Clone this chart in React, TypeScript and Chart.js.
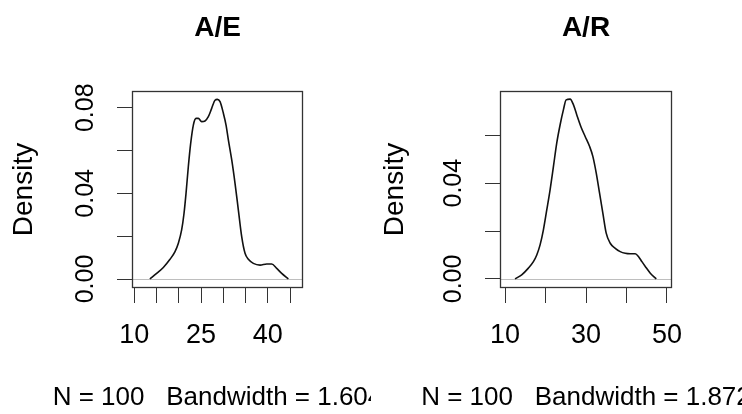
import React, { useEffect, useRef } from "react";
import { Chart, registerables } from "chart.js";

Chart.register(...registerables);

// ---------- data ----------
const AE_X = [13.5, 15.02, 16.52, 18.02, 19.15, 19.9, 20.64, 21.17, 21.62, 22.14, 22.67, 23.27, 23.87, 24.39, 25.14, 25.89, 26.64, 27.39, 28.14, 28.67, 29.27, 30.02, 30.62, 31.15, 31.9, 32.64, 33.39, 34.14, 34.89, 35.64, 36.76, 38.26, 39.76, 40.88, 42.01, 43.13, 44.63];
const AE_Y = [0.0, 0.0026, 0.0054, 0.0092, 0.0128, 0.0167, 0.0229, 0.0306, 0.0399, 0.0524, 0.0633, 0.0719, 0.075, 0.075, 0.0735, 0.0738, 0.0758, 0.0797, 0.0835, 0.0839, 0.0828, 0.0774, 0.0719, 0.0649, 0.0556, 0.0447, 0.0322, 0.0198, 0.012, 0.0092, 0.0073, 0.0065, 0.007, 0.007, 0.005, 0.0026, 0.0];

const AR_X = [12.47, 14.12, 15.77, 17.01, 17.84, 18.66, 19.48, 20.31, 21.13, 21.96, 22.78, 23.61, 24.43, 25.09, 26.08, 26.91, 27.73, 28.72, 29.79, 30.87, 31.69, 32.52, 33.34, 34.16, 34.99, 35.98, 37.22, 38.45, 39.69, 40.93, 42.16, 42.99, 43.81, 44.64, 45.88, 47.36];
const AR_Y = [0.0, 0.0017, 0.0045, 0.0072, 0.01, 0.0142, 0.0205, 0.0288, 0.0372, 0.047, 0.0568, 0.0644, 0.0707, 0.0748, 0.0751, 0.0727, 0.0685, 0.0637, 0.0595, 0.0554, 0.0512, 0.0443, 0.0359, 0.0275, 0.0191, 0.0149, 0.0128, 0.0114, 0.0107, 0.0105, 0.0105, 0.0093, 0.0072, 0.0052, 0.0024, 0.0];

const TITLES = ["A/E", "A/R"];
const X_LABELS = ["N = 100   Bandwidth = 1.604", "N = 100   Bandwidth = 1.872"];
const AE_X_TICK_LABELS = [10, 25, 40];
const AR_X_TICK_LABELS = [10, 30, 50];
const Y_TICK_LABELS = [0, 0.04, 0.08];
const Y_LABEL = "Density";

// ---------- layout ----------
const W = 371;
const H = 414;
const FONT = "'Liberation Sans', Arial, Helvetica, sans-serif";

type Panel = {
  xs: number[];
  ys: number[];
  title: string;
  xlab: string;
  xTickLabels: number[];
  xMin: number;
  xMax: number;
  xStep: number;
  yMin: number;
  yMax: number;
  area: { left: number; right: number; top: number; bottom: number };
};

const PANELS: Panel[] = [
  {
    xs: AE_X,
    ys: AE_Y,
    title: TITLES[0],
    xlab: X_LABELS[0],
    xTickLabels: AE_X_TICK_LABELS,
    xMin: 9.48,
    xMax: 47.92,
    xStep: 5,
    yMin: -0.0042,
    yMax: 0.0878,
    area: { left: 132, right: 303, top: 91, bottom: 288 },
  },
  {
    xs: AR_X,
    ys: AR_Y,
    title: TITLES[1],
    xlab: X_LABELS[1],
    xTickLabels: AR_X_TICK_LABELS,
    xMin: 8.76,
    xMax: 51.24,
    xStep: 10,
    yMin: -0.0038,
    yMax: 0.0785,
    area: { left: 129, right: 301, top: 91, bottom: 288 },
  },
];

function DensityPanel({ p }: { p: Panel }) {
  const ref = useRef<HTMLCanvasElement | null>(null);

  useEffect(() => {
    if (!ref.current) return;
    const decor = {
      id: "rdecor",
      beforeDatasetsDraw(chart: any) {
        const { ctx, chartArea } = chart;
        const y0 = Math.round(chart.scales.y.getPixelForValue(0)) + 0.5;
        ctx.save();
        ctx.strokeStyle = "#bebebe";
        ctx.lineWidth = 1;
        ctx.beginPath();
        ctx.moveTo(chartArea.left, y0);
        ctx.lineTo(chartArea.right, y0);
        ctx.stroke();
        ctx.restore();
      },
      afterDraw(chart: any) {
        const { ctx, chartArea } = chart;
        ctx.save();
        ctx.strokeStyle = "#333";
        ctx.lineWidth = 1.3;
        const l = Math.round(chartArea.left) + 0.5;
        const t = Math.round(chartArea.top) + 0.5;
        const r = Math.round(chartArea.right) - 0.5;
        const b = Math.round(chartArea.bottom) - 0.5;
        ctx.strokeRect(l, t, r - l, b - t);
        const cx = (chartArea.left + chartArea.right) / 2;
        ctx.fillStyle = "#000";
        ctx.textAlign = "center";
        ctx.textBaseline = "middle";
        ctx.font = `bold 28px ${FONT}`;
        ctx.fillText(p.title, cx, 28);
        ctx.font = `26px ${FONT}`;
        ctx.fillText(p.xlab, cx, 398);
        ctx.restore();
      },
    };

    const chart = new Chart(ref.current, {
      type: "line",
      data: {
        datasets: [
          {
            data: p.xs.map((x, i) => ({ x, y: p.ys[i] })),
            borderColor: "#111",
            borderWidth: 1.6,
            pointRadius: 0,
            fill: false,
            cubicInterpolationMode: "monotone",
          },
        ],
      },
      options: {
        responsive: false,
        animation: false,
        events: [],
        layout: {
          padding: { left: 0, top: p.area.top, right: W - p.area.right, bottom: 0 },
        },
        plugins: {
          legend: { display: false },
          tooltip: { enabled: false },
          title: { display: false },
        },
        scales: {
          x: {
            type: "linear",
            min: p.xMin,
            max: p.xMax,
            border: { display: false },
            grid: {
              drawOnChartArea: false,
              drawTicks: true,
              tickLength: 15,
              color: "#333",
              lineWidth: 1,
            },
            ticks: {
              stepSize: p.xStep,
              includeBounds: false,
              autoSkip: false,
              maxRotation: 0,
              minRotation: 0,
              padding: 16,
              color: "#000",
              font: { family: FONT, size: 27 },
              callback: (v: any) =>
                p.xTickLabels.some((t) => Math.abs(t - Number(v)) < 1e-6) ? String(Math.round(Number(v))) : "",
            },
            afterFit: (scale: any) => {
              scale.height = H - p.area.bottom;
            },
          },
          y: {
            type: "linear",
            min: p.yMin,
            max: p.yMax,
            border: { display: false },
            grid: {
              drawOnChartArea: false,
              drawTicks: true,
              tickLength: 15,
              color: "#333",
              lineWidth: 1,
            },
            ticks: {
              stepSize: 0.02,
              includeBounds: false,
              autoSkip: false,
              minRotation: 90,
              maxRotation: 90,
              crossAlign: "center",
              padding: 7,
              color: "#000",
              font: { family: FONT, size: 25 },
              callback: (v: any) =>
                Y_TICK_LABELS.some((t) => Math.abs(t - Number(v)) < 1e-6) ? Number(v).toFixed(2) : "",
            },
            title: {
              display: true,
              text: Y_LABEL,
              color: "#000",
              font: { family: FONT, size: 28 },
              padding: { top: 7, bottom: 0 },
            },
            afterFit: (scale: any) => {
              scale.width = p.area.left;
            },
          },
        },
      },
      plugins: [decor],
    } as any);

    return () => chart.destroy();
  }, [p]);

  return <canvas ref={ref} width={W} height={H} style={{ display: "block", width: W, height: H }} />;
}

export default function App() {
  return (
    <div
      style={{
        position: "absolute",
        left: 0,
        top: 0,
        width: 742,
        height: 414,
        background: "#fff",
        display: "flex",
        overflow: "hidden",
      }}
    >
      {PANELS.map((p, i) => (
        <DensityPanel key={i} p={p} />
      ))}
    </div>
  );
}
